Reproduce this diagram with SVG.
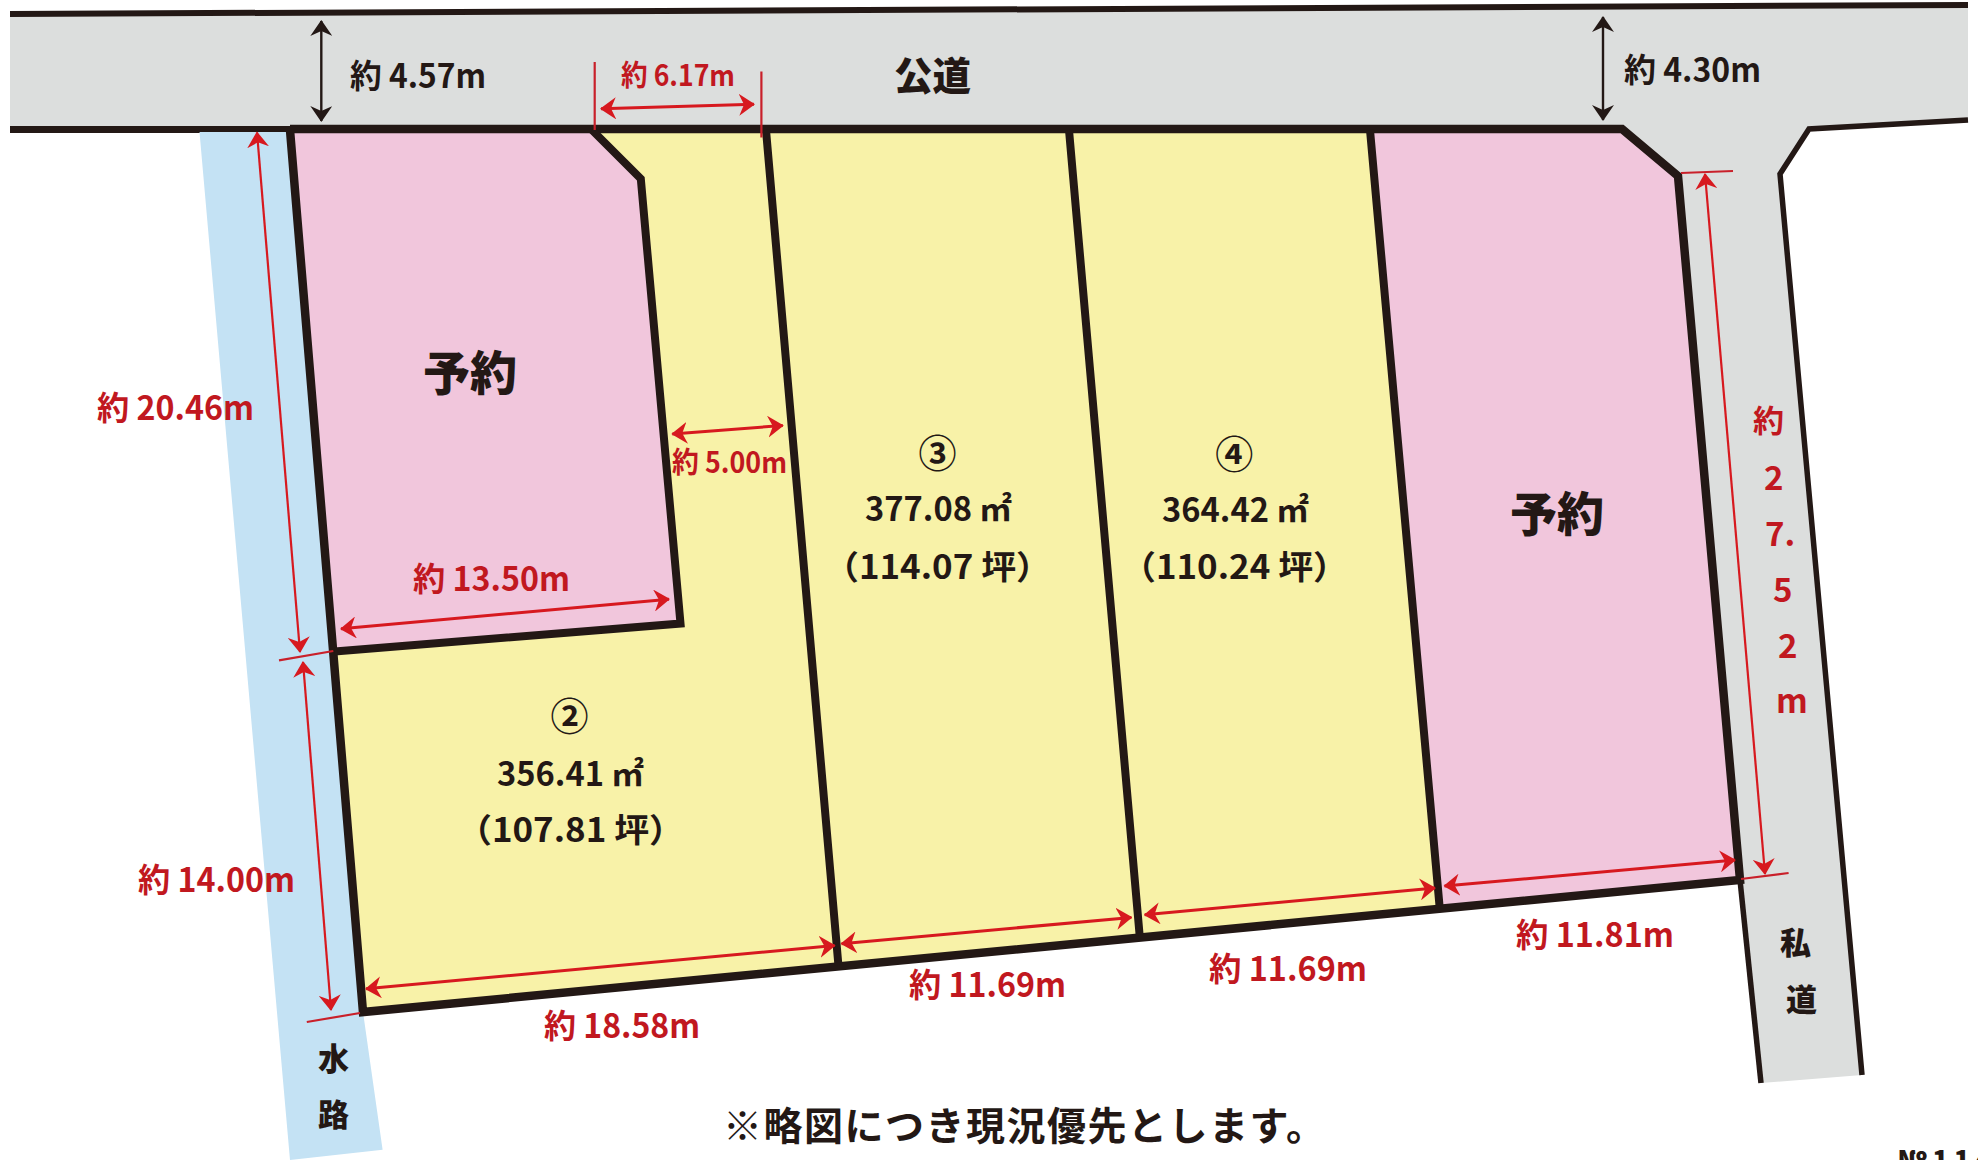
<svg xmlns="http://www.w3.org/2000/svg" width="1978" height="1160" viewBox="0 0 1978 1160">
<style>
text{font-family:"Noto Sans CJK JP","Liberation Sans",sans-serif;font-weight:700}
.h{font-weight:900}
.k{fill:#231815}.r{fill:#c1181f}
.ln{fill:none;stroke:#231815;stroke-linejoin:miter}
.arR{fill:none;stroke:#d7191f;stroke-width:3;marker-start:url(#ra);marker-end:url(#ra)}
.thin{fill:none;stroke:#d7191f;stroke-width:2.2;marker-start:url(#ra2);marker-end:url(#ra2)}
.tick{fill:none;stroke:#c9202a;stroke-width:2.2}
.arK{fill:none;stroke:#231815;stroke-width:2.4;marker-start:url(#ka);marker-end:url(#ka)}
</style>
<defs>
<marker id="ra" viewBox="0 0 16 22" refX="15" refY="11" markerWidth="16" markerHeight="22" markerUnits="userSpaceOnUse" orient="auto-start-reverse"><path d="M0 0L16 11L0 22L5 11Z" fill="#d7191f"/></marker>
<marker id="ra2" viewBox="0 0 16 22" refX="15" refY="11" markerWidth="16" markerHeight="22" markerUnits="userSpaceOnUse" orient="auto-start-reverse"><path d="M0 0L16 11L0 22L5 11Z" fill="#d7191f"/></marker>
<marker id="ka" viewBox="0 0 16 22" refX="15" refY="11" markerWidth="16" markerHeight="22" markerUnits="userSpaceOnUse" orient="auto-start-reverse"><path d="M0 0L16 11L0 22L5 11Z" fill="#231815"/></marker>
</defs>
<g id="road">
<path d="M10 14L1968 5V120L1809 129L1780 174L1862 1075L1761 1083L1740 880L1678 176L1622 129H10Z" fill="#dcdedd"/>
<path class="ln" stroke-width="6" d="M10 14L1968 5"/>
<path class="ln" stroke-width="5.500" d="M1968 120L1809 129L1780 174L1862 1075"/>
<path class="ln" stroke-width="5.500" d="M1740 880L1761 1083"/>
<path class="ln" stroke-width="7" d="M10 129.500H290"/>
</g>
<g id="water"><path d="M199.500 132H290V130L363 1012L382.600 1149.700L290 1160Z" fill="#c4e2f4"/></g>
<g id="lot2"><path d="M592 130H766L838 965L363 1012L334.600 651.400L680.500 623.600L640.800 178.700Z" fill="#f8f2a8"/></g>
<g id="lot3"><path d="M766 130H1069L1139.600 935L838 965Z" fill="#f8f2a8"/></g>
<g id="lot4"><path d="M1069 130H1370L1439.500 905.600L1139.600 935Z" fill="#f8f2a8"/></g>
<g id="lot5"><path d="M1370 130H1622L1678 176L1740 880L1439.500 905.600Z" fill="#f1c6dc"/></g>
<g id="lot1"><path d="M290 130H592L640.800 178.700L680.500 623.600L334.600 651.400Z" fill="#f1c6dc"/></g>
<g id="outlines">
<path class="ln" stroke-width="8.500" d="M290 130L363 1012L1740 880L1678 176L1622 129H290"/>
<path class="ln" stroke-width="8" d="M592 130L640.800 178.700L680.500 623.600L334.600 651.400"/>
<path class="ln" stroke-width="8" d="M766 130L838.400 965M1069 130L1139.600 935M1370 130L1439.500 905.600"/>
</g>
<g id="connectors">
<path class="arK" d="M321.300 21V121"/>
<path class="arK" d="M1603 17V120"/>
<path class="tick" d="M594.700 62V130M761.400 71.400V137.600M279 660.300L333.300 651M306.800 1022L360 1013M1681 173L1733 171M1741 879L1788.600 873"/>
<path class="arR" d="M601 108.800L754 104.300"/>
<path class="arR" d="M672.300 434L782.800 425.500"/>
<path class="arR" d="M341 628.800L669 599.200"/>
<path class="thin" d="M257 132.400L300 652"/>
<path class="thin" d="M303 662L331 1010"/>
<path class="arR" d="M366 988.800L834.600 945.500"/>
<path class="arR" d="M841.500 943.700L1131.400 917.400"/>
<path class="arR" d="M1144.700 914.800L1435 888"/>
<path class="arR" d="M1444.500 886L1735 860"/>
<path class="thin" d="M1705 174L1765 874"/>
</g>
<g id="labels">
<text class="k" x="350" y="88" font-size="33" textLength="136" lengthAdjust="spacingAndGlyphs">約 4.57m</text>
<text class="r" x="621" y="86" font-size="29" textLength="114" lengthAdjust="spacingAndGlyphs">約 6.17m</text>
<text class="k h" x="894" y="90" font-size="39" textLength="77" lengthAdjust="spacingAndGlyphs">公道</text>
<text class="k" x="1624" y="82" font-size="33" textLength="137" lengthAdjust="spacingAndGlyphs">約 4.30m</text>
<text class="k h" x="423" y="390" font-size="47" textLength="94" lengthAdjust="spacingAndGlyphs">予約</text>
<text class="k h" x="1510" y="531" font-size="47" textLength="94" lengthAdjust="spacingAndGlyphs">予約</text>
<text class="r" x="97" y="420" font-size="33" textLength="157" lengthAdjust="spacingAndGlyphs">約 20.46m</text>
<text class="r" x="672" y="473" font-size="29" textLength="115" lengthAdjust="spacingAndGlyphs">約 5.00m</text>
<text class="r" x="413" y="591" font-size="33" textLength="157" lengthAdjust="spacingAndGlyphs">約 13.50m</text>
<text class="r" x="138" y="892" font-size="33" textLength="157" lengthAdjust="spacingAndGlyphs">約 14.00m</text>
<text class="r" x="544" y="1038" font-size="33" textLength="156" lengthAdjust="spacingAndGlyphs">約 18.58m</text>
<text class="r" x="909" y="997" font-size="33" textLength="157" lengthAdjust="spacingAndGlyphs">約 11.69m</text>
<text class="r" x="1209" y="981" font-size="33" textLength="158" lengthAdjust="spacingAndGlyphs">約 11.69m</text>
<text class="r" x="1516" y="947" font-size="33" textLength="158" lengthAdjust="spacingAndGlyphs">約 11.81m</text>
<text class="k" x="937.500" y="467" font-size="38" text-anchor="middle">③</text>
<text class="k" x="865" y="521" font-size="33" textLength="147" lengthAdjust="spacingAndGlyphs">377.08 ㎡</text>
<text class="k" x="824" y="579" font-size="33" textLength="227" lengthAdjust="spacingAndGlyphs">（114.07 坪）</text>
<text class="k" x="1234.300" y="468" font-size="38" text-anchor="middle">④</text>
<text class="k" x="1162" y="522" font-size="33" textLength="147" lengthAdjust="spacingAndGlyphs">364.42 ㎡</text>
<text class="k" x="1121" y="579" font-size="33" textLength="227" lengthAdjust="spacingAndGlyphs">（110.24 坪）</text>
<text class="k" x="569.400" y="730" font-size="38" text-anchor="middle">②</text>
<text class="k" x="497" y="786" font-size="33" textLength="147" lengthAdjust="spacingAndGlyphs">356.41 ㎡</text>
<text class="k" x="457" y="842" font-size="33" textLength="227" lengthAdjust="spacingAndGlyphs">（107.81 坪）</text>
<text class="k h" x="318" y="1070" font-size="31">水</text>
<text class="k h" x="318" y="1126" font-size="31">路</text>
<text class="k h" x="1780" y="954" font-size="31">私</text>
<text class="k h" x="1786" y="1011" font-size="31">道</text>
<text class="r" x="1753" y="432" font-size="31">約</text>
<text class="r" x="1764" y="490" font-size="33">2</text>
<text class="r" x="1765" y="546" font-size="33">7.</text>
<text class="r" x="1773" y="602" font-size="33">5</text>
<text class="r" x="1778" y="658" font-size="33">2</text>
<text class="r" x="1776" y="713" font-size="33">m</text>
<text class="k" x="723" y="1140" font-size="39" textLength="602" lengthAdjust="spacing">※略図につき現況優先とします。</text>
<text class="k h" x="1897" y="1170" font-size="27" letter-spacing="5">№114</text>
</g>
</svg>
